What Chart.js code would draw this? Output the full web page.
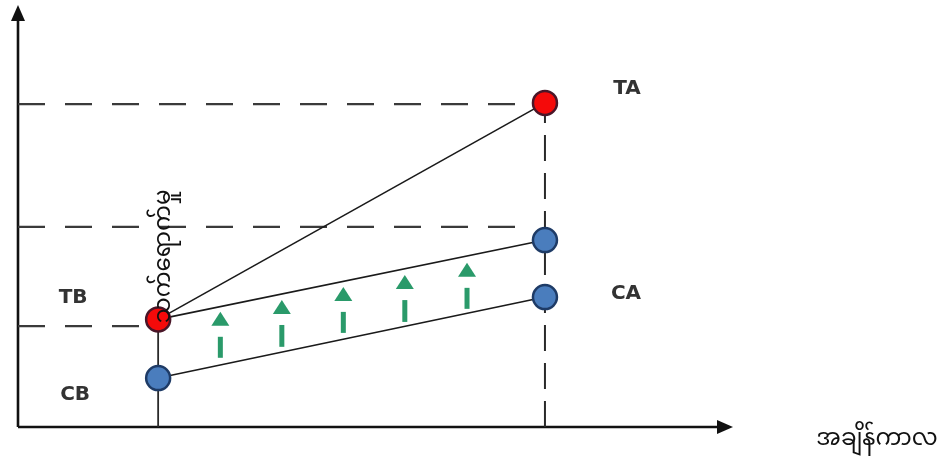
<!DOCTYPE html>
<html>
<head>
<meta charset="utf-8">
<script src="https://cdn.jsdelivr.net/npm/chart.js@4.4.1/dist/chart.umd.min.js"></script>
<style>
  html, body { margin: 0; padding: 0; background: #ffffff; }
  #wrap { width: 938px; height: 461px; }
</style>
</head>
<body>
<div id="wrap"><canvas id="c" width="938" height="461"></canvas></div>
<script>
// ---- data (time on x, outcome on y) ----
const timeValues = [1.96, 7.37];              // before, after
const treatedValues = [2.55, 7.68];           // TB, TA
const controlValues = [1.16, 3.08];           // CB, CA
const counterfactualValues = [2.55, 4.43];    // TB, counterfactual after
const guideLevels = [7.65, 4.74, 2.39];       // horizontal dashed guides
const guideEnds = [7.16, 7.09, 1.78];
const effectX = [2.83, 3.69, 4.55, 5.41, 6.28];
const effectTip = [2.73, 3.01, 3.32, 3.60, 3.89];
const effectBase = [1.64, 1.90, 2.23, 2.49, 2.80];
const pointLabels = ["TB", "TA", "CB", "CA"];
const xAxisTitle = "အချိန်ကာလ";
const effectTitle = "သက်ရောက်မှု";

const MM_FONT = '"Noto Sans Myanmar", "Padauk", "Myanmar Text", "Noto Sans", sans-serif';
const RED = '#f50a0a', RED_B = '#4a1628';
const BLUE = '#4a7dbd', BLUE_B = '#1e3b66';

function seg(x0, y0, x1, y1) { return [{x: x0, y: y0}, {x: x1, y: y1}]; }

const datasets = [];
// points (on top)
datasets.push({
  data: [{x: timeValues[0], y: treatedValues[0]}, {x: timeValues[1], y: treatedValues[1]}],
  backgroundColor: RED, borderColor: RED_B, borderWidth: 2.5, pointRadius: 12, order: 0
});
datasets.push({
  data: [{x: timeValues[0], y: controlValues[0]}, {x: timeValues[1], y: controlValues[1]},
         {x: timeValues[1], y: counterfactualValues[1]}],
  backgroundColor: BLUE, borderColor: BLUE_B, borderWidth: 2.5, pointRadius: 12, order: 0
});
// solid trend lines
[[treatedValues], [counterfactualValues], [controlValues]].forEach(([v]) => {
  datasets.push({
    data: seg(timeValues[0], v[0], timeValues[1], v[1]), showLine: true,
    borderColor: '#1a1a1a', borderWidth: 1.6, pointRadius: 0, order: 1
  });
});
// horizontal dashed guides
guideLevels.forEach((lv, i) => {
  datasets.push({
    data: seg(0, lv, guideEnds[i], lv), showLine: true,
    borderColor: '#3a3a3a', borderWidth: 2.2, borderDash: [27, 20], pointRadius: 0, order: 2
  });
});
// vertical guides
datasets.push({
  data: seg(timeValues[0], 0, timeValues[0], treatedValues[0]), showLine: true,
  borderColor: '#2a2a2a', borderWidth: 1.8, pointRadius: 0, order: 2
});
datasets.push({
  data: seg(timeValues[1], 0, timeValues[1], treatedValues[1]), showLine: true,
  borderColor: '#2a2a2a', borderWidth: 2, borderDash: [26, 12], pointRadius: 0, order: 2
});
datasets.forEach(d => { d.clip = false; d.pointHoverRadius = d.pointRadius; });

const decor = {
  id: 'decor',
  beforeDatasetsDraw(chart) {
    const {ctx, scales: {x, y}} = chart;
    const x0 = x.getPixelForValue(0), y0 = y.getPixelForValue(0);
    const yTop = y.getPixelForValue(10), xEnd = x.getPixelForValue(10);
    ctx.save();
    ctx.strokeStyle = '#111'; ctx.fillStyle = '#111'; ctx.lineWidth = 2.6;
    ctx.beginPath(); ctx.moveTo(x0, y0); ctx.lineTo(x0, yTop + 12); ctx.stroke();
    ctx.beginPath(); ctx.moveTo(x0, y0); ctx.lineTo(xEnd - 12, y0); ctx.stroke();
    ctx.beginPath(); ctx.moveTo(x0, yTop); ctx.lineTo(x0 - 7, yTop + 16); ctx.lineTo(x0 + 7, yTop + 16); ctx.closePath(); ctx.fill();
    ctx.beginPath(); ctx.moveTo(xEnd, y0); ctx.lineTo(xEnd - 16, y0 - 7); ctx.lineTo(xEnd - 16, y0 + 7); ctx.closePath(); ctx.fill();
    ctx.restore();
  },
  afterDatasetsDraw(chart) {
    const {ctx, scales: {x, y}} = chart;
    ctx.save();
    ctx.fillStyle = '#2a9a6a';
    effectX.forEach((ex, i) => {
      const px = x.getPixelForValue(ex);
      const tip = y.getPixelForValue(effectTip[i]);
      const base = y.getPixelForValue(effectBase[i]);
      ctx.beginPath(); ctx.moveTo(px, tip); ctx.lineTo(px - 9, tip + 14); ctx.lineTo(px + 9, tip + 14); ctx.closePath(); ctx.fill();
      ctx.fillRect(px - 2.5, tip + 25, 5, base - tip - 25);
    });
    // point labels
    ctx.font = 'bold 20px "DejaVu Sans", sans-serif';
    ctx.fillStyle = '#333';
    ctx.textAlign = 'center'; ctx.textBaseline = 'middle';
    const tx0 = x.getPixelForValue(timeValues[0]), tx1 = x.getPixelForValue(timeValues[1]);
    ctx.fillText(pointLabels[0], tx0 - 85, y.getPixelForValue(treatedValues[0]) - 22);
    ctx.fillText(pointLabels[1], tx1 + 82, y.getPixelForValue(treatedValues[1]) - 14);
    ctx.fillText(pointLabels[2], tx0 - 83, y.getPixelForValue(controlValues[0]) + 17);
    ctx.fillText(pointLabels[3], tx1 + 81, y.getPixelForValue(controlValues[1]) - 3);
    // axis title
    ctx.fillStyle = '#111';
    ctx.font = '23px ' + MM_FONT;
    ctx.fillText(xAxisTitle, 877, y.getPixelForValue(0) + 16);
    // rotated effect label
    ctx.translate(tx0 + 9, y.getPixelForValue(treatedValues[0]) - 63);
    ctx.rotate(-Math.PI / 2);
    ctx.font = '23px ' + MM_FONT;
    ctx.fillText(effectTitle, 0, 0);
    ctx.restore();
  }
};

new Chart(document.getElementById('c'), {
  type: 'scatter',
  data: { datasets },
  options: {
    responsive: false, animation: false, devicePixelRatio: 1,
    layout: { autoPadding: false, padding: { left: 18, right: 205, top: 5, bottom: 34 } },
    scales: {
      x: { type: 'linear', min: 0, max: 10, display: false },
      y: { type: 'linear', min: 0, max: 10, display: false }
    },
    plugins: { legend: { display: false }, tooltip: { enabled: false } },
    events: []
  },
  plugins: [decor]
});
</script>
</body>
</html>
